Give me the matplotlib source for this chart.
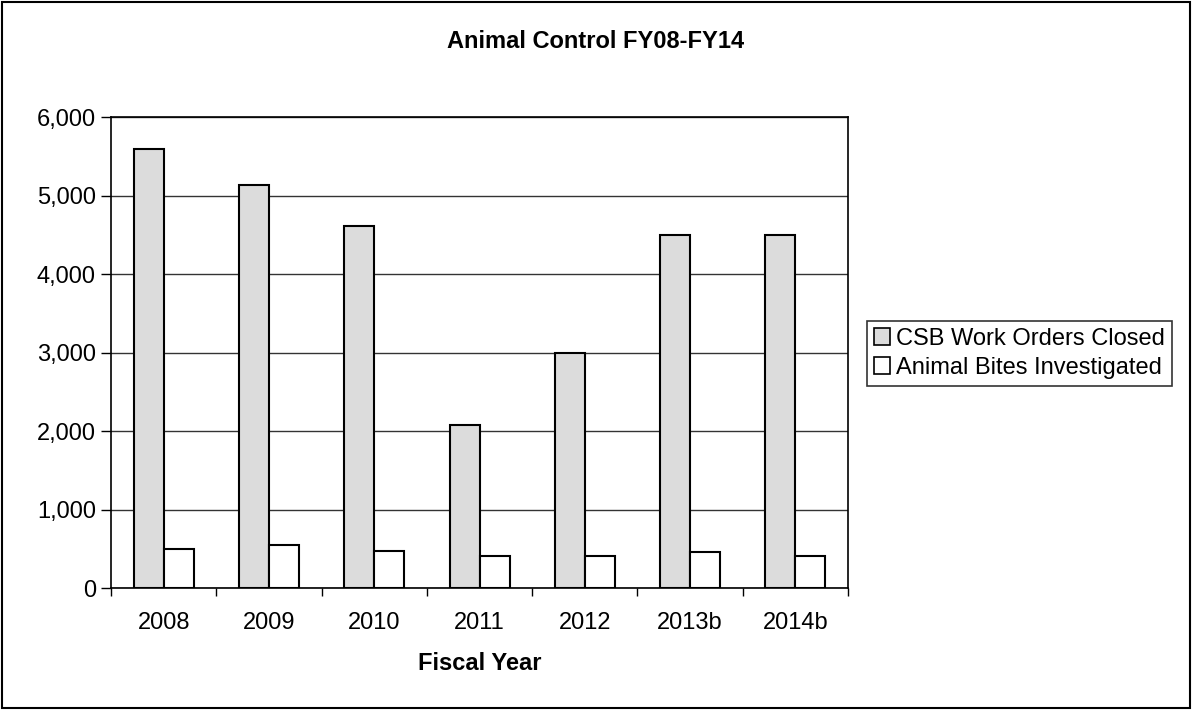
import matplotlib.pyplot as plt
import numpy as np
from matplotlib.patches import Rectangle
from matplotlib.ticker import FuncFormatter

plt.rcParams['font.family'] = ['Liberation Sans', 'DejaVu Sans']

# fiscal years and the two series
years = ["2008", "2009", "2010", "2011", "2012", "2013b", "2014b"]
work_orders = [5600, 5140, 4610, 2080, 3000, 4500, 4500]
bites = [500, 555, 480, 415, 415, 465, 405]

fig = plt.figure(figsize=(11.94, 7.11), dpi=100)
ax = fig.add_axes([0.093, 0.1726, 0.6172, 0.6624])

x = np.arange(len(years))
w = 0.285
ax.bar(x - w / 2, work_orders, w, color='#dcdcdc', edgecolor='black', linewidth=1.5,
       label='CSB Work Orders Closed', zorder=3)
ax.bar(x + w / 2, bites, w, color='white', edgecolor='black', linewidth=1.5,
       label='Animal Bites Investigated', zorder=3)

ax.set_xlim(-0.5, len(years) - 0.5)
ax.set_ylim(0, 6000)
ax.set_yticks(range(0, 6001, 1000))
ax.yaxis.set_major_formatter(FuncFormatter(lambda v, p: f"{int(v):,}"))
ax.yaxis.grid(True, color='#333333', linewidth=1)
ax.set_axisbelow(True)

# ticks between categories, labels centred under each group
ax.set_xticks(np.arange(-0.5, len(years), 1))
ax.set_xticklabels([])
ax.set_xticks(x, minor=True)
ax.set_xticklabels(years, minor=True)
ax.tick_params(axis='x', which='major', length=6, width=1, direction='out')
ax.tick_params(axis='x', which='minor', length=0, pad=17, labelsize=17)
ax.tick_params(axis='y', length=7, width=1, labelsize=17, pad=4)

for s in ax.spines.values():
    s.set_color('black')
    s.set_linewidth(1.2)

ax.set_xlabel("Fiscal Year", fontsize=17, fontweight='bold', labelpad=13)
fig.text(0.4987, 0.941, "Animal Control FY08-FY14",
         ha='center', va='center', fontsize=17, fontweight='bold')

leg = fig.legend(loc='center left', bbox_to_anchor=(0.7259, 0.503), fontsize=17,
                 frameon=True, fancybox=False, edgecolor='black', handlelength=0.7,
                 handleheight=0.7, handletextpad=0.25, borderpad=0.3, labelspacing=0.3,
                 borderaxespad=0)
leg.get_frame().set_linewidth(1.2)
for h in leg.legend_handles:
    h.set_linewidth(1.2)

# outer chart border
fig.patches.append(Rectangle((0.002, 0.004), 0.995, 0.993, transform=fig.transFigure,
                             fill=False, edgecolor='black', linewidth=1.5))

fig.savefig("out.png", dpi=100)
